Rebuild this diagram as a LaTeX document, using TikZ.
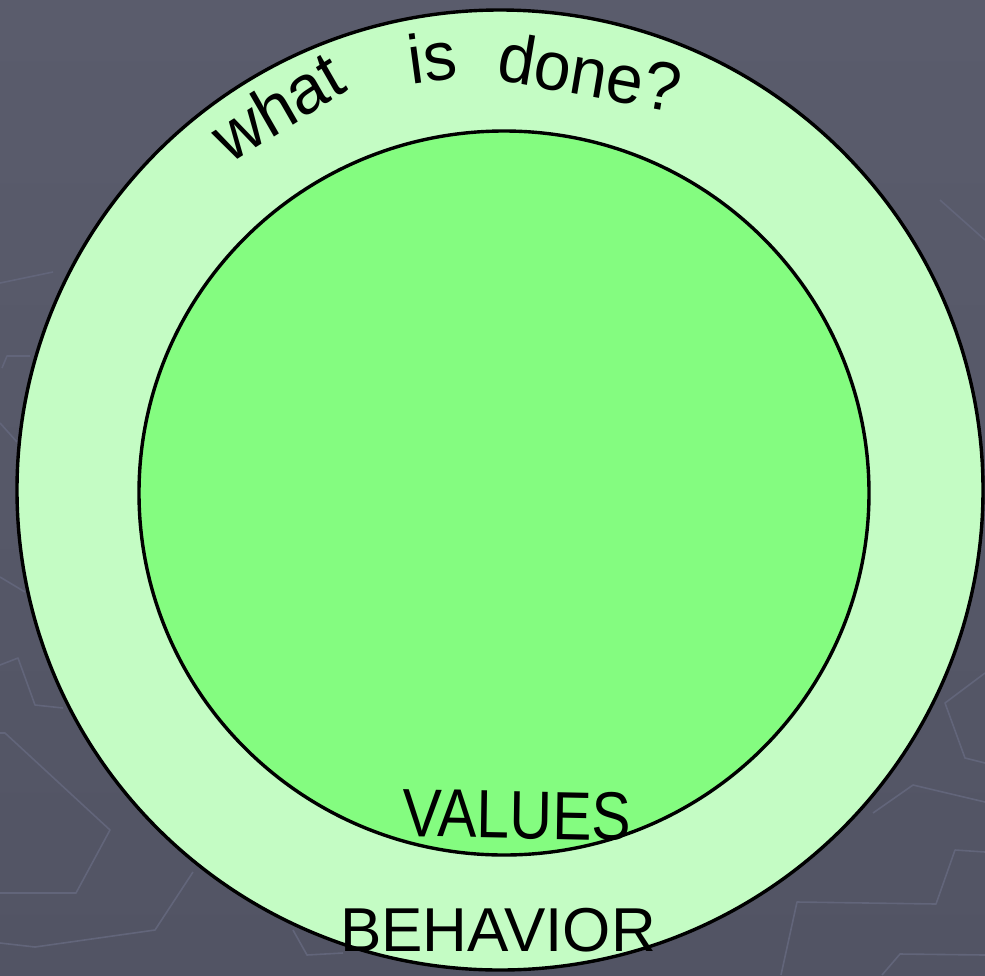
\documentclass[tikz,border=0pt]{standalone}
\usepackage{fontspec}
\setmainfont{Liberation Sans}
\usetikzlibrary{shapes.geometric}
\definecolor{bgtop}{HTML}{5A5C6C}
\definecolor{bgbot}{HTML}{525464}
\definecolor{hexline}{HTML}{62657A}
\definecolor{ringgreen}{HTML}{C4FCC4}
\definecolor{coregreen}{HTML}{84FC80}
\tikzset{
  ring/.style={ellipse, draw=black, line width=3.4pt, inner sep=0pt},
  hand/.style={inner sep=0pt, text=black},
  handfont/.style={font=\fontsize{60}{60}\selectfont, xscale=1.1, yscale=1.15},
  faint/.style={draw=hexline, line width=1.6pt, line join=round}
}
\begin{document}
\begin{tikzpicture}[x=1pt,y=-1pt]
\useasboundingbox (0,0) rectangle (985,975);
\shade[top color=bgtop, bottom color=bgbot] (0,0) rectangle (985,975);
% faint background lines
\draw[faint] (0,283) -- (53,272);
\draw[faint] (2,368) -- (7,356) -- (30,356);
\draw[faint] (0,423) -- (17,442);
\draw[faint] (0,577) -- (25,592);
\draw[faint] (0,665) -- (18,658) -- (35,705) -- (63,708);
\draw[faint] (0,733) -- (5,733) -- (110,830) -- (76,893) -- (0,893);
\draw[faint] (0,943) -- (35,947) -- (155,930) -- (193,872);
\draw[faint] (293,930) -- (307,955) -- (343,953);
\draw[faint] (940,200) -- (985,240);
\draw[faint] (985,673) -- (945,703) -- (965,758) -- (985,763);
\draw[faint] (873,813) -- (913,785) -- (985,802);
\draw[faint] (985,852) -- (955,850) -- (936,904) -- (797,902) -- (781,975);
\draw[faint] (882,975) -- (900,954) -- (985,955);
% circles
\node (outer) [ring, fill=ringgreen, minimum width=966pt, minimum height=960pt] at (500,490) {};
\node (inner) [ring, fill=coregreen, minimum width=730pt, minimum height=724pt] at (504,493) {};
% texts
\node (w1) [hand, handfont, rotate=31] at (277,106) {what};
\node (w2) [hand, handfont, rotate=8] at (432,57) {is};
\node (w3) [hand, handfont, rotate=-10] at (590,72) {done?};
\node (values) [hand, font=\fontsize{62}{62}\selectfont, xscale=0.95, yscale=1.1, rotate=-1] at (517,815) {VALUES};
\node (behavior) [hand, font=\fontsize{62}{62}\selectfont] at (498,930) {BEHAVIOR};
\end{tikzpicture}
\end{document}
